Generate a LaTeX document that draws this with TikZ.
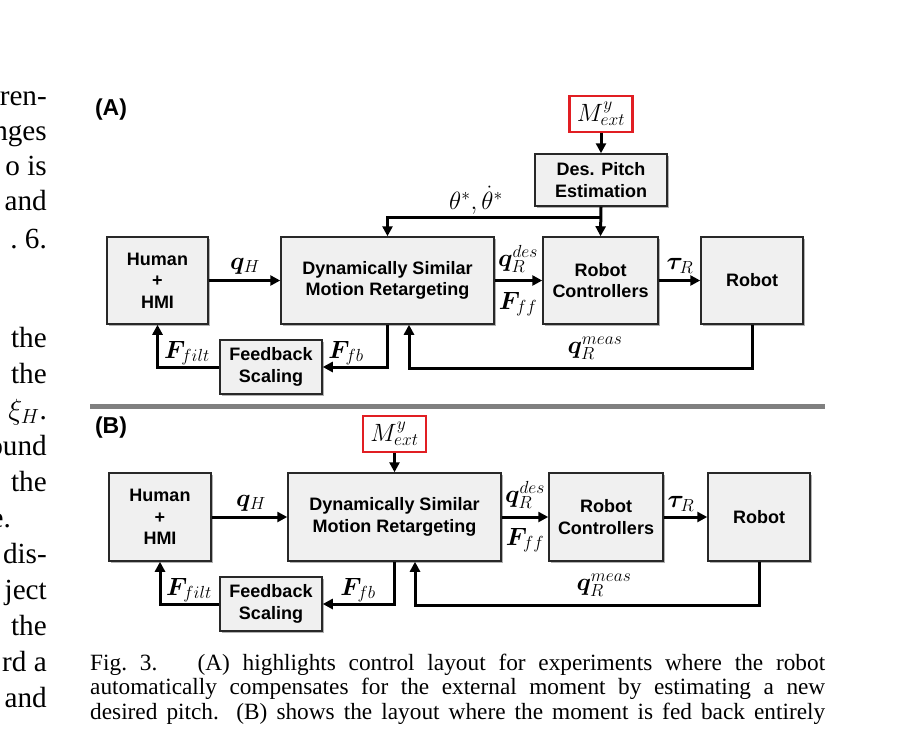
\RequirePackage{fix-cm}
\documentclass[tikz,border=0pt]{standalone}
\usepackage{bm}
\usepackage[no-math]{fontspec}
\setmainfont{Liberation Serif}
\setsansfont{Liberation Sans}
\usetikzlibrary{arrows.meta,shadows,calc}
\definecolor{boxfill}{RGB}{240,240,240}
\definecolor{boxline}{RGB}{40,40,40}
\definecolor{sepgray}{RGB}{128,128,128}
\definecolor{extred}{RGB}{225,30,35}
\begin{document}
\begin{tikzpicture}[x=1pt,y=-1pt,
  blk/.style={draw=boxline, line width=1.5pt, fill=boxfill, align=center, inner sep=0pt,
    font=\sffamily\bfseries\fontsize{18}{21.5}\selectfont,
    drop shadow={shadow xshift=1.6pt, shadow yshift=-1.6pt, fill=black, opacity=0.3}},
  extbox/.style={draw=extred, line width=2.8pt, fill=white, inner sep=0pt, minimum width=63pt, minimum height=36pt,
    font=\fontsize{25}{28}\selectfont},
  conn/.style={line width=3pt, -{Triangle[length=10pt,width=10pt]}},
  lbl/.style={font=\fontsize{25}{28}\selectfont, inner sep=0pt},
  panel/.style={font=\sffamily\bfseries\fontsize{23}{26}\selectfont, inner sep=0pt},
  body/.style={font=\fontsize{29.2}{35}\selectfont, anchor=base east, inner sep=0pt},
]
\useasboundingbox[fill=white] (0,0) rectangle (915,732);

% ---------- left column fragments ----------
\node[body] (t1) at (47,105) {ren-};
\node[body] (t2) at (47,140) {nges};
\node[body] (t3) at (47,175) {o is};
\node[body] (t4) at (47,210) {and};
\node[body] (t5) at (47,248) {.\ 6.};
\node[body] (t6) at (47,347) {the};
\node[body] (t7) at (47,383) {the};
\node[body] (t8) at (47,419) {$\xi_H$.};
\node[body] (t9) at (47,455) {ound};
\node[body] (t10) at (47,491) {the};
\node[body] (t11) at (11,527) {e.};
\node[body] (t12) at (47,563) {dis-};
\node[body] (t13) at (47,599) {ject};
\node[body] (t14) at (47,635) {the};
\node[body] (t15) at (47,671) {rd a};
\node[body] (t16) at (47,707) {and};

% ---------- panel A ----------
\node[panel] (labA) at (111,110) {(A)};
\node[blk, minimum width=101pt, minimum height=87pt] (hA) at (157.5,280.5) {Human\\+\\HMI};
\node[blk, minimum width=213pt, minimum height=87pt] (dA) at (387.5,280.5) {Dynamically Similar\\Motion Retargeting};
\node[blk, minimum width=115pt, minimum height=87pt] (rcA) at (600.5,280.5) {Robot\\Controllers};
\node[blk, minimum width=102pt, minimum height=87pt] (rA) at (752,280.5) {Robot};
\node[blk, minimum width=102pt, minimum height=54pt] (fsA) at (271,367) {Feedback\\Scaling};
\node[blk, minimum width=132pt, minimum height=52pt] (dpA) at (601,180) {Des. Pitch\\Estimation};
\node[extbox] (mA) at (601,114) {$M_{ext}^{y}$};

\coordinate (jA) at (601,217);
\coordinate (fbA) at (409,368);
\draw[conn] (hA.east) -- (dA.west);
\draw[conn] (dA.east) -- (rcA.west);
\draw[conn] (rcA.east) -- (rA.west);
\draw[conn] (mA.south) -- (dpA.north);
\draw[conn] (dpA.south) -- (rcA.north);
\draw[conn] (jA) -| (dA.north);
\draw[conn] (dA.south) |- (fsA.east);
\draw[conn] (fsA.west) -| (hA.south);
\draw[conn] (rA.south) |- (fbA) -- (fbA |- dA.south);

\node[lbl] (qhA) at (245,266) {$\bm{q}_H$};
\node[lbl] (thA) at (476,200) {$\theta^*,\dot{\theta}^*$};
\node[lbl] (qdA) at (518,259) {$\bm{q}_R^{des}$};
\node[lbl] (ffA) at (518,304) {$\bm{F}_{ff}$};
\node[lbl] (tauA) at (680,266) {$\bm{\tau}_R$};
\node[lbl] (fbLA) at (346,353) {$\bm{F}_{fb}$};
\node[lbl] (flA) at (187,353) {$\bm{F}_{filt}$};
\node[lbl] (qmA) at (595,348) {$\bm{q}_R^{meas}$};

% ---------- separator ----------
\coordinate (sepL) at (90,406);
\coordinate (sepR) at (825,406);
\draw[sepgray, line width=5pt] (sepL) -- (sepR);

% ---------- panel B ----------
\node[panel] (labB) at (111,428) {(B)};
\node[blk, minimum width=102pt, minimum height=88pt] (hB) at (160,517) {Human\\+\\HMI};
\node[blk, minimum width=213pt, minimum height=88pt] (dB) at (394.5,517) {Dynamically Similar\\Motion Retargeting};
\node[blk, minimum width=114pt, minimum height=88pt] (rcB) at (606,517) {Robot\\Controllers};
\node[blk, minimum width=102pt, minimum height=88pt] (rB) at (759,517) {Robot};
\node[blk, minimum width=102pt, minimum height=54pt] (fsB) at (271,604) {Feedback\\Scaling};
\node[extbox] (mB) at (394.5,434) {$M_{ext}^{y}$};

\coordinate (fbB) at (415,605);
\draw[conn] (hB.east) -- (dB.west);
\draw[conn] (dB.east) -- (rcB.west);
\draw[conn] (rcB.east) -- (rB.west);
\draw[conn] (mB.south) -- (dB.north);
\draw[conn] (dB.south) |- (fsB.east);
\draw[conn] (fsB.west) -| (hB.south);
\draw[conn] (rB.south) |- (fbB) -- (fbB |- dB.south);

\node[lbl] (qhB) at (251,503) {$\bm{q}_H$};
\node[lbl] (qdB) at (525,495) {$\bm{q}_R^{des}$};
\node[lbl] (ffB) at (525,540) {$\bm{F}_{ff}$};
\node[lbl] (tauB) at (681,504) {$\bm{\tau}_R$};
\node[lbl] (fbLB) at (358,590) {$\bm{F}_{fb}$};
\node[lbl] (flB) at (189,590) {$\bm{F}_{filt}$};
\node[lbl] (qmB) at (604,585) {$\bm{q}_R^{meas}$};

% ---------- caption ----------
\node[anchor=base west, inner sep=0pt] (cap) at (90,670) {\parbox[t]{735pt}{\fontsize{23.3}{24.6}\selectfont\parfillskip=0pt
Fig.~3.\hspace{0.5em} (A) highlights control layout for experiments where the robot\linebreak
automatically compensates for the external moment by estimating a new\linebreak
desired pitch. (B) shows the layout where the moment is fed back entirely}};
\end{tikzpicture}
\end{document}
